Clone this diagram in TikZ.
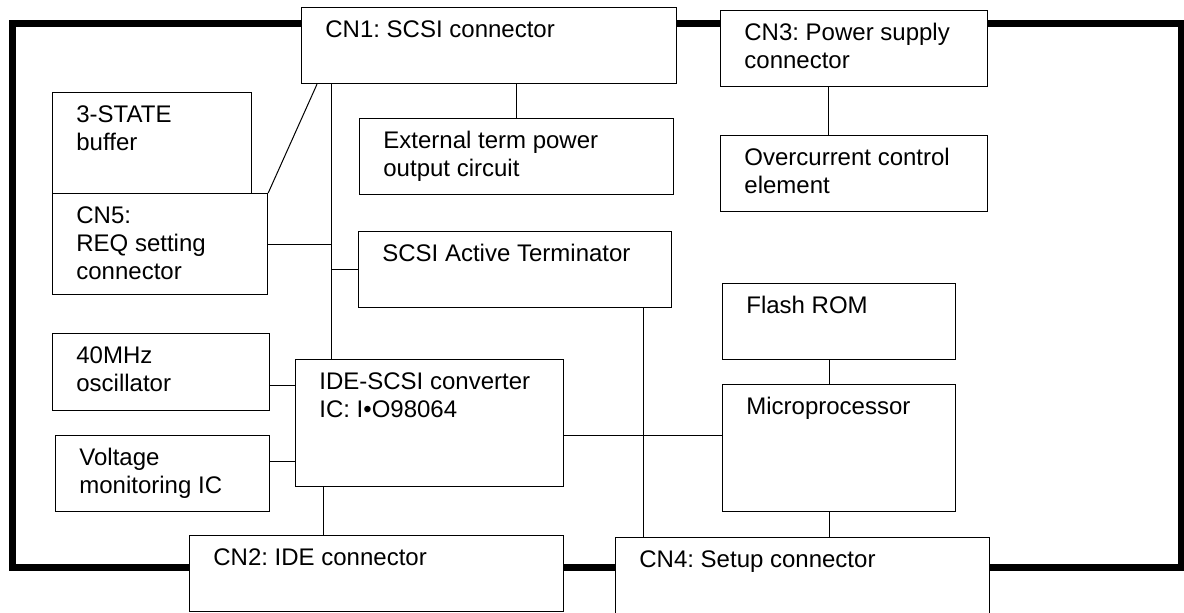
\documentclass[tikz,border=0pt]{standalone}
\usepackage{fontspec}
\setmainfont{Liberation Sans}
\usepackage{tikz}
\usetikzlibrary{calc}
\frenchspacing

\begin{document}
\begin{tikzpicture}[x=0.5pt,y=-0.5pt,
  box/.style={draw,fill=white,line width=0.6pt,anchor=north west,inner sep=0pt},
  txt/.style={anchor=north west,align=left,inner sep=0pt,xshift=12pt,yshift=-6.5pt,
    font=\fontsize{12}{14}\selectfont},
  wire/.style={line width=0.5pt},
  frame/.style={line width=3.5pt}]
\useasboundingbox (0,0) rectangle (1184,612);

% Board outline
\draw[frame] (12,23.5) rectangle (1181,567);

% Connectors on the board edge
\node[box,minimum width=187.5pt,minimum height=38pt,label={[txt]north west:{CN1: SCSI connector}}] (cn1) at (301,7) {};
\node[box,minimum width=133.5pt,minimum height=38pt,label={[txt]north west:{CN3: Power supply\\connector}}] (cn3) at (720,10) {};
\node[box,minimum width=187pt,minimum height=38pt,label={[txt]north west:{CN2: IDE connector}}] (cn2) at (189,535) {};
\node[box,minimum width=187pt,minimum height=40pt,label={[txt]north west:{CN4: Setup connector}}] (cn4) at (615,537) {};

% Blocks on the board
\node[box,minimum width=157pt,minimum height=38pt,label={[txt]north west:{External term power\\output circuit}}] (ext) at (359,118) {};
\node[box,minimum width=156.5pt,minimum height=38pt,label={[txt]north west:{SCSI Active Terminator}}] (term) at (358,231) {};
\node[box,minimum width=133.5pt,minimum height=38pt,label={[txt]north west:{Overcurrent control\\element}}] (over) at (720,135) {};
\node[box,minimum width=116.5pt,minimum height=38pt,label={[txt]north west:{Flash ROM}}] (flash) at (722,283) {};
\node[box,minimum width=116.5pt,minimum height=63.5pt,label={[txt]north west:{Microprocessor}}] (micro) at (722,384) {};
\node[box,minimum width=99.5pt,minimum height=50.5pt,label={[txt]north west:{3-STATE\\buffer}}] (buf) at (52,92) {};
\node[box,minimum width=107.5pt,minimum height=50.5pt,label={[txt]north west:{CN5:\\REQ setting\\connector}}] (cn5) at (52,193) {};
\node[box,minimum width=108.5pt,minimum height=38.5pt,label={[txt]north west:{40MHz\\oscillator}}] (osc) at (52,333) {};
\node[box,minimum width=107pt,minimum height=38pt,label={[txt]north west:{Voltage\\monitoring IC}}] (volt) at (55,435) {};
\node[box,minimum width=134pt,minimum height=63.5pt,label={[txt]north west:{IDE-SCSI converter\\IC: I•O98064}}] (conv) at (295,359) {};

% SCSI bus
\coordinate (bus) at (331,0);
\coordinate (ml) at (0,435);
\draw[wire] (cn1.south -| bus) -- (conv.north -| bus);
\draw[wire] (cn5.east) -- (cn5.east -| bus);
\draw[wire] (term.west) -- (term.west -| bus);
\draw[wire] (cn5.north east) -- ($(cn1.south west)+(16,0)$);
\draw[wire] (ext.north) -- (ext.north |- cn1.south);

% Other links
\draw[wire] ([xshift=-13pt]over.north) -- ([xshift=-13pt]over.north |- cn3.south);
\draw[wire] ([xshift=-5pt]flash.south) -- ([xshift=-5pt]micro.north);
\draw[wire] ([xshift=-5pt]micro.south) -- ([xshift=-5pt]micro.south |- cn4.north);
\draw[wire] ([xshift=-14.5pt]term.south east) -- ([xshift=-14.5pt]term.south east |- cn4.north);
\draw[wire] (conv.east |- ml) -- (micro.west |- ml);
\draw[wire] ([yshift=-6.75pt]osc.east) -- ([yshift=-6.75pt]osc.east -| conv.west);
\draw[wire] ([yshift=6pt]volt.east) -- ([yshift=6pt]volt.east -| conv.west);
\draw[wire] ([xshift=14pt]conv.south west) -- ([xshift=14pt]conv.south west |- cn2.north);
\end{tikzpicture}
\end{document}
